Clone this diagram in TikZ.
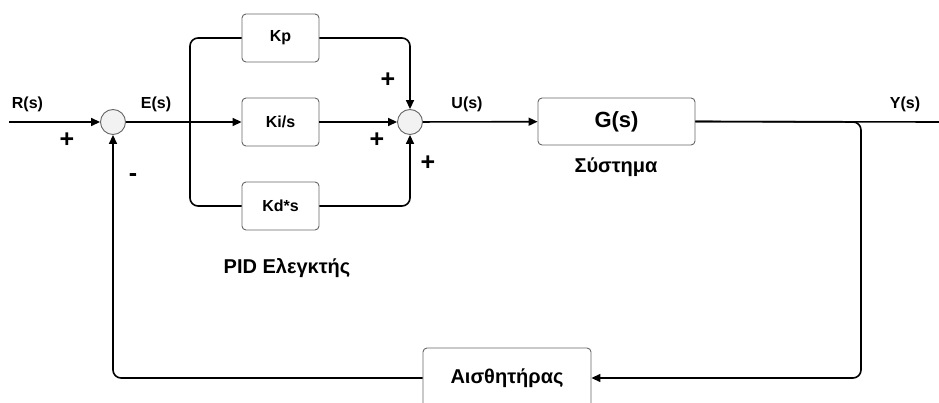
\documentclass[tikz,border=0pt]{standalone}
\usepackage{fontspec}
\setmainfont{Liberation Sans}
\usetikzlibrary{arrows.meta}
\begin{document}
\begin{tikzpicture}[x=1pt,y=-1pt,
  blk/.style={draw=black!60,line width=0.9pt,rounded corners=4pt,fill=white,font=\bfseries\fontsize{16}{18}\selectfont,inner sep=0pt},
  sumc/.style={circle,draw=black!60,line width=0.9pt,fill=black!5,minimum size=25pt,inner sep=0pt},
  wire/.style={line width=1.6pt,black},
  conn/.style={wire,-{Triangle[length=9pt,width=8pt]}},
  lbl/.style={font=\bfseries\fontsize{16}{18}\selectfont,inner sep=0pt},
  big/.style={font=\bfseries\fontsize{20}{22}\selectfont,inner sep=0pt},
  sgn/.style={font=\bfseries\fontsize{25}{27}\selectfont,inner sep=0pt}]
\useasboundingbox (0,0) rectangle (939,403);
\clip (0,0) rectangle (939,403);
% nodes
\node[sumc] (s1) at (113,122) {};
\node[sumc] (s2) at (410,122) {};
\node[blk,minimum width=77pt,minimum height=48pt] (kp) at (280.5,38) {Kp};
\node[blk,minimum width=77pt,minimum height=48pt] (ki) at (280.5,122) {Ki/s};
\node[blk,minimum width=77pt,minimum height=48pt] (kd) at (280.5,206) {Kd*s};
\node[blk,minimum width=157pt,minimum height=47pt,font=\fontsize{22}{24}\selectfont\bfseries] (g) at (616.5,121.5) {G(s)};
\node[blk,minimum width=168pt,minimum height=60pt,font=\fontsize{20}{22}\selectfont\bfseries] (h) at (507,378) {Αισθητήρας};
\coordinate (in) at (9,122);
\coordinate (out) at (939,122);
\coordinate (br) at (190,122);
\coordinate (tap) at (861,122);
% labels
\node[lbl] (lr) at (27.5,104) {R(s)};
\node[lbl] (le) at (156,104) {E(s)};
\node[lbl] (lu) at (467,104) {U(s)};
\node[lbl] (ly) at (905,104) {Y(s)};
\node[sgn] (p1) at (67,140) {+};
\node[sgn] (m1) at (133,178) {-};
\node[sgn] (p2) at (388,80) {+};
\node[sgn] (p3) at (377,140) {+};
\node[sgn] (p4) at (428,163) {+};
\node[big] (ls) at (616,167) {Σύστημα};
\node[big] (lp) at (287,268) {PID Ελεγκτής};
% connectors
\draw[conn] (in) -- (s1);
\draw[conn] (s1) -- (ki);
\draw[wire,rounded corners=8pt] (kp.west) -| (br) |- (kd.west);
\draw[conn,rounded corners=8pt] (kp.east) -| (s2.north);
\draw[conn] (ki) -- (s2);
\draw[conn,rounded corners=8pt] (kd.east) -| (s2.south);
\draw[conn] (s2) -- (g);
\draw[wire] (g.east) -- (out);
\draw[conn,rounded corners=8pt] (g.east) -- (tap) |- (h.east);
\draw[conn,rounded corners=8pt] (h.west) -| (s1.south);
\end{tikzpicture}
\end{document}
